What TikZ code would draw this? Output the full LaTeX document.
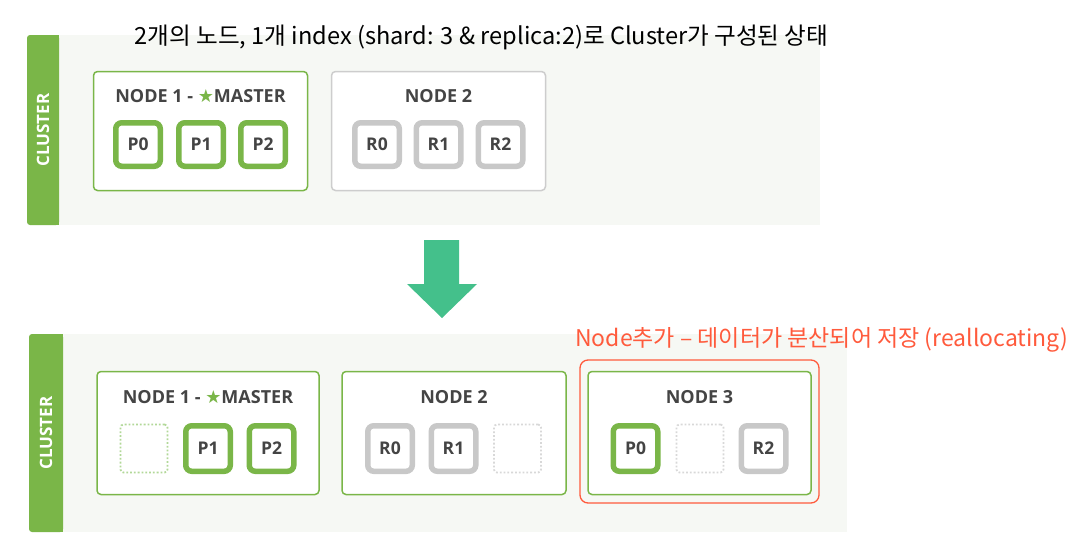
\documentclass[tikz,border=0pt]{standalone}
\usepackage{fontspec}
\newfontfamily\osans{Open Sans}
\newfontfamily\cjk{Noto Sans CJK KR}
\newfontfamily\dejavu{DejaVu Sans}
\definecolor{egreen}{HTML}{7AB648}
\definecolor{lgreen}{HTML}{B2D898}
\definecolor{sgray}{HTML}{C8C8C8}
\definecolor{ngray}{HTML}{CDCDCD}
\definecolor{dgray}{HTML}{D8D8D8}
\definecolor{panel}{HTML}{F6F8F4}
\definecolor{txt}{HTML}{444444}
\definecolor{arrowc}{HTML}{44C08B}
\definecolor{redc}{HTML}{FF5A3C}
\tikzset{
  panelbg/.style={fill=panel},
  clabel/.style={font=\osans\bfseries\fontsize{17}{17}\selectfont, text=white, rotate=90},
  nodebox/.style={draw=egreen, fill=white, line width=1.5pt, rounded corners=4pt, minimum height=119pt, inner sep=0pt},
  graybox/.style={nodebox, draw=ngray},
  nlabel/.style={font=\osans\bfseries\fontsize{18}{18}\selectfont, text=txt, inner sep=0pt},
  pshard/.style={draw=egreen, fill=white, line width=5.5pt, rounded corners=6pt, minimum width=44.5pt, minimum height=43.5pt, inner sep=0pt, font=\osans\bfseries\fontsize{17.5}{17.5}\selectfont, text=txt},
  rshard/.style={pshard, draw=sgray},
  gempty/.style={draw=lgreen, line width=1.8pt, dotted, rounded corners=3pt, minimum width=47pt, minimum height=48pt, inner sep=0pt},
  rempty/.style={gempty, draw=dgray},
}
\begin{document}
\begin{tikzpicture}[x=1pt,y=-1pt]
\useasboundingbox (0,0) rectangle (1078,549);
\fill[white] (0,0) rectangle (1078,549);
% ---------- top cluster ----------
\fill[panelbg] (40,35) rectangle (820,225);
\fill[egreen, rounded corners=3pt] (27,35) rectangle (59,225);
\fill[egreen] (50,35) rectangle (59,225);
\node[clabel] (c1) at (43,130) {CLUSTER};
\node[nodebox, minimum width=214pt] (t1) at (200.5,131) {};
\node[graybox, minimum width=214pt] (t2) at (438.5,131) {};
\node[nlabel] (t1l) at (200.5,96) {NODE 1 - {\dejavu\color{egreen}★}MASTER};
\node[nlabel] (t2l) at (438.5,96) {NODE 2};
\node[pshard] (tp0) at (138,144.5) {P0};
\node[pshard] (tp1) at (201,144.5) {P1};
\node[pshard] (tp2) at (263,144.5) {P2};
\node[rshard] (tr0) at (377,144.5) {R0};
\node[rshard] (tr1) at (438.5,144.5) {R1};
\node[rshard] (tr2) at (500.5,144.5) {R2};
\node[font=\cjk\fontsize{23.6}{23.6}\selectfont, text=black, inner sep=0pt] (title) at (481.5,37)
  {2개의 노드, 1개 index (shard: 3 \& replica:2)로 Cluster가 구성된 상태};
% ---------- arrow ----------
\fill[arrowc] (424,240) -- (459,240) -- (459,284) -- (477,284) -- (442,318) -- (407,284) -- (424,284) -- cycle;
% ---------- bottom cluster ----------
\fill[panelbg] (40,334) rectangle (847,532);
\fill[egreen, rounded corners=3pt] (29,334) rectangle (63,532);
\fill[egreen] (55,334) rectangle (63,532);
\node[clabel] (c2) at (46,433) {CLUSTER};
\node[nodebox, minimum width=222pt, minimum height=123pt] (b1) at (208,433) {};
\node[nodebox, minimum width=224pt, minimum height=123pt] (b2) at (454,433) {};
\node[draw=redc, line width=1.3pt, rounded corners=8pt, minimum width=239pt, minimum height=143pt, inner sep=0pt] (hl) at (699.5,431.5) {};
\node[nodebox, minimum width=223pt, minimum height=123pt] (b3) at (699.5,433) {};
\node[nlabel] (b1l) at (208,397) {NODE 1 - {\dejavu\color{egreen}★}MASTER};
\node[nlabel] (b2l) at (454,397) {NODE 2};
\node[nlabel] (b3l) at (699.5,397) {NODE 3};
\node[gempty] (be0) at (144,448.5) {};
\node[pshard, minimum height=45.5pt] (bp1) at (208,448.5) {P1};
\node[pshard, minimum height=45.5pt] (bp2) at (271.5,448.5) {P2};
\node[rshard, minimum height=45.5pt] (br0) at (390,448.5) {R0};
\node[rshard, minimum height=45.5pt] (br1) at (453.5,448.5) {R1};
\node[rempty] (be1) at (517.5,448.5) {};
\node[pshard, minimum height=45.5pt] (bp0) at (635.5,448.5) {P0};
\node[rempty] (be2) at (700,448.5) {};
\node[rshard, minimum height=45.5pt] (br2) at (763.5,448.5) {R2};
\node[font=\cjk\fontsize{23}{23}\selectfont, text=redc, inner sep=0pt] (note) at (821.5,340)
  {Node추가 – 데이터가 분산되어 저장 (reallocating)};
\end{tikzpicture}
\end{document}
